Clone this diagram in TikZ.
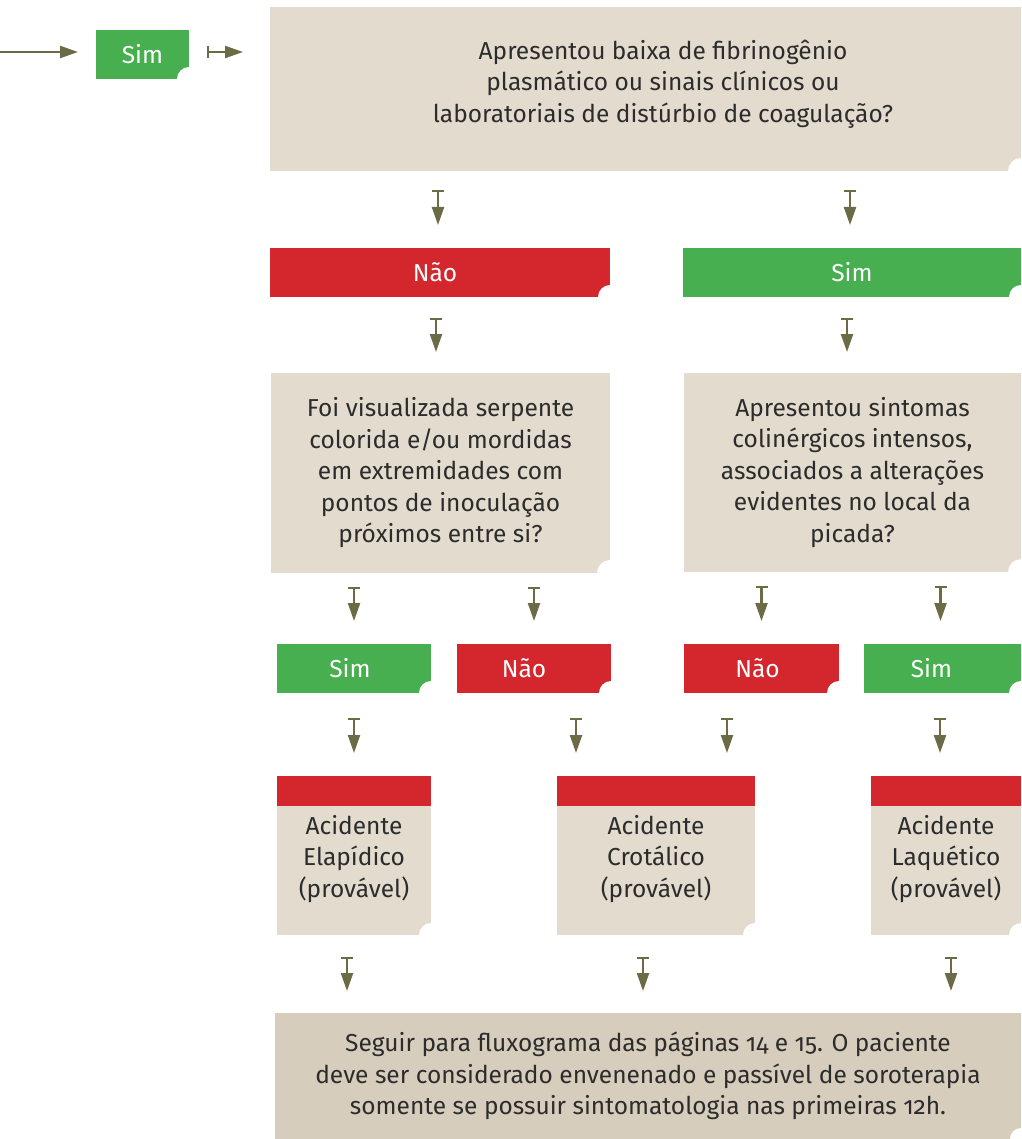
\documentclass[tikz,border=0pt]{standalone}
\usepackage{fontspec}
\setmainfont[Numbers=OldStyle]{Fira Sans}
\usetikzlibrary{arrows.meta}
\definecolor{beige}{HTML}{E3DBCE}
\definecolor{beigedark}{HTML}{D7CDBC}
\definecolor{boxred}{HTML}{D3272D}
\definecolor{boxgreen}{HTML}{47AF4F}
\definecolor{arrowolive}{HTML}{6B6B45}
\definecolor{txt}{HTML}{2C2C2C}
\begin{document}
\begin{tikzpicture}[x=1pt,y=-1pt,
  notch/.style={path picture={\fill[white] (path picture bounding box.south east) circle (#1);}},
  base/.style={anchor=north west, inner sep=0pt, outer sep=0pt, align=center},
  qbox/.style={base, fill=beige, text=txt, font=\fontsize{24.5}{31.5}\selectfont, notch=13pt},
  lab/.style={base, text=white, font=\fontsize{24.5}{26}\selectfont, notch=12pt},
  redlab/.style={lab, fill=boxred},
  greenlab/.style={lab, fill=boxgreen},
  resbox/.style={base, fill=beige, text=txt, font=\fontsize{24.5}{31.5}\selectfont,
    path picture={\fill[boxred] (path picture bounding box.north west) rectangle ([yshift=-30pt]path picture bounding box.north east);
                  \fill[white] (path picture bounding box.south east) circle (12pt);}},
  tarrow/.style={draw=arrowolive, line width=2.3pt,
    {Bar[width=12pt,line width=2.3pt]}-{Triangle[width=12pt,length=18pt]}},
  plainarrow/.style={draw=arrowolive, line width=2.3pt, -{Triangle[width=12pt,length=18pt]}}
]
\useasboundingbox (0,0) rectangle (1021,1139);

% top row
\coordinate (start) at (0,52);
\node[greenlab, minimum width=93pt, minimum height=49pt] (sim0) at (96,30) {Sim};
\node[qbox, minimum width=751pt, minimum height=164pt] (top) at (270,7) {};
\node[text=txt, align=center, font=\fontsize{24.5}{31.5}\selectfont, inner sep=0pt] (toptext) at (663,84)
  {Apresentou baixa de fibrinogênio\\plasmático ou sinais clínicos ou\\laboratoriais de distúrbio de coagulação?};

% level 2
\node[redlab, minimum width=340pt, minimum height=49pt] (nao1) at (270,248) {Não\hspace*{10pt}};
\node[greenlab, minimum width=338pt, minimum height=49pt] (sim1) at (683,248) {Sim};

% questions
\node[qbox, minimum width=339pt, minimum height=200pt] (q1) at (271,373)
  {Foi visualizada serpente\\colorida e/ou mordidas\\em extremidades com\\pontos de inoculação\\próximos entre si?};
\node[qbox, minimum width=337pt, minimum height=199pt] (q2) at (684,373)
  {Apresentou sintomas\\colinérgicos intensos,\\associados a alterações\\evidentes no local da\\picada?};

% level 4
\node[greenlab, minimum width=154pt, minimum height=49pt] (simA) at (277,644) {Sim\hspace*{8pt}};
\node[redlab, minimum width=154pt, minimum height=49pt] (naoA) at (457,644) {Não\hspace*{20pt}};
\node[redlab, minimum width=155pt, minimum height=49pt] (naoB) at (684,644) {Não\hspace*{8pt}};
\node[greenlab, minimum width=157pt, minimum height=49pt] (simB) at (864,644) {Sim\hspace*{22pt}};

% results
\node[resbox, minimum width=154pt, minimum height=159pt] (r1) at (277,776) {\\[-6pt]Acidente\\Elapídico\\(provável)};
\node[resbox, minimum width=198pt, minimum height=159pt] (r2) at (557,776) {\\[-6pt]Acidente\\Crotálico\\(provável)};
\node[resbox, minimum width=150pt, minimum height=159pt] (r3) at (871,776) {\\[-6pt]Acidente\\Laquético\\(provável)};

% final
\node[base, fill=beigedark, text=txt, font=\fontsize{24.5}{31.5}\selectfont, notch=11pt,
  minimum width=746pt, minimum height=126pt] (fin) at (275,1013)
  {Seguir para fluxograma das páginas 14 e 15. O paciente\\deve ser considerado envenenado e passível de soroterapia\\somente se possuir sintomatologia nas primeiras 12h.};

% connectors
\draw[plainarrow, shorten >=18pt] (start) -- (sim0.west |- start);
\draw[tarrow, shorten <=18pt, shorten >=27pt] (sim0.east |- start) -- (top.west |- start);

\draw[tarrow, shorten <=19pt, shorten >=23pt] ([xshift=-2pt]top.south -| nao1.north) -- ([xshift=-2pt]nao1.north);
\draw[tarrow, shorten <=19pt, shorten >=23pt] ([xshift=-2pt]top.south -| sim1.north) -- ([xshift=-2pt]sim1.north);

\draw[tarrow, shorten <=21pt, shorten >=21pt] ([xshift=-4pt]nao1.south) -- ([xshift=-4pt]nao1.south |- q1.north);
\draw[tarrow, shorten <=21pt, shorten >=21pt] ([xshift=-5pt]sim1.south) -- ([xshift=-5pt]sim1.south |- q2.north);

\draw[tarrow, shorten <=14pt, shorten >=23pt] (q1.south -| simA.north) -- (simA.north);
\draw[tarrow, shorten <=14pt, shorten >=23pt] (q1.south -| naoA.north) -- (naoA.north);
\draw[tarrow, shorten <=14pt, shorten >=23pt] (q2.south -| naoB.north) -- (naoB.north);
\draw[tarrow, shorten <=14pt, shorten >=23pt] ([xshift=-2pt]q2.south -| simB.north) -- ([xshift=-2pt]simB.north);

\draw[tarrow, shorten <=25pt, shorten >=23pt] (simA.south) -- (simA.south |- r1.north);
\draw[tarrow, shorten <=25pt, shorten >=23pt] ([xshift=42pt]naoA.south) -- ([xshift=42pt]naoA.south |- r2.north);
\draw[tarrow, shorten <=25pt, shorten >=23pt] ([xshift=-34.5pt]naoB.south) -- ([xshift=-34.5pt]naoB.south |- r2.north);
\draw[tarrow, shorten <=25pt, shorten >=23pt] ([xshift=-2.5pt]simB.south) -- ([xshift=-2.5pt]simB.south |- r3.north);

\draw[tarrow, shorten <=22pt, shorten >=22pt] ([xshift=-7pt]r1.south) -- ([xshift=-7pt]r1.south |- fin.north);
\draw[tarrow, shorten <=22pt, shorten >=22pt] ([xshift=-13pt]r2.south) -- ([xshift=-13pt]r2.south |- fin.north);
\draw[tarrow, shorten <=22pt, shorten >=22pt] ([xshift=5pt]r3.south) -- ([xshift=5pt]r3.south |- fin.north);
\end{tikzpicture}
\end{document}
